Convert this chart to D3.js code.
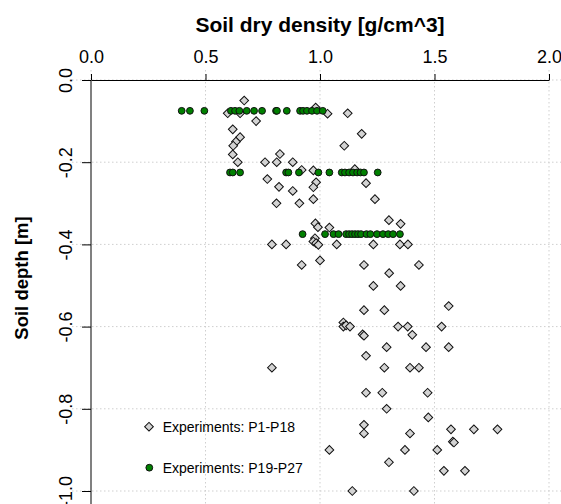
<!DOCTYPE html>
<html>
<head>
<meta charset="utf-8">
<script src="https://cdn.jsdelivr.net/npm/d3@7.9.0/dist/d3.min.js"></script>
<style>
  body { margin: 0; background: #fff; }
  svg { display: block; font-family: "Liberation Sans", Arial, sans-serif; }
</style>
</head>
<body>
<svg id="chart" width="561" height="504"></svg>
<script>
// Experiments P1-P18 (grey diamonds): density [g/cm^3], depth [m]
const p1Density = [0.669,0.597,0.651,0.721,0.981,1.033,1.121,0.619,0.651,0.633,
  0.621,0.619,0.641,0.760,0.811,0.881,0.825,1.182,1.106,0.770,
  0.821,0.881,0.810,0.910,0.920,0.971,0.983,0.971,0.971,1.152,
  1.201,1.240,1.301,1.352,0.980,0.991,1.041,0.978,0.971,0.983,
  0.993,0.790,0.852,1.073,1.233,1.349,1.384,1.000,0.920,1.192,
  1.432,1.302,1.233,1.352,1.562,1.192,1.281,1.102,1.102,1.114,
  1.131,1.341,1.383,1.531,1.186,1.192,1.403,1.291,1.463,1.562,
  1.201,0.790,1.281,1.393,1.432,1.201,1.272,1.470,1.291,1.473,
  1.192,1.192,1.393,1.572,1.672,1.775,1.580,1.585,1.041,1.371,
  1.512,1.301,1.541,1.633,1.141,1.410];
const p1Depth = [-0.050,-0.081,-0.081,-0.100,-0.067,-0.082,-0.081,-0.120,-0.139,-0.150,
  -0.160,-0.181,-0.200,-0.200,-0.200,-0.200,-0.180,-0.131,-0.160,-0.241,
  -0.260,-0.270,-0.300,-0.300,-0.219,-0.220,-0.249,-0.261,-0.290,-0.217,
  -0.251,-0.290,-0.341,-0.350,-0.349,-0.358,-0.359,-0.385,-0.393,-0.397,
  -0.401,-0.400,-0.400,-0.400,-0.400,-0.400,-0.400,-0.439,-0.450,-0.450,
  -0.450,-0.470,-0.501,-0.501,-0.550,-0.560,-0.560,-0.590,-0.600,-0.597,
  -0.600,-0.600,-0.600,-0.600,-0.619,-0.622,-0.620,-0.650,-0.650,-0.650,
  -0.671,-0.700,-0.700,-0.700,-0.700,-0.761,-0.761,-0.761,-0.800,-0.821,
  -0.839,-0.860,-0.860,-0.850,-0.850,-0.850,-0.880,-0.882,-0.900,-0.900,
  -0.900,-0.930,-0.951,-0.951,-1.000,-1.000];

// Experiments P19-P27 (green circles): one density list per sampling layer
const p19Layers = [-0.075, -0.225, -0.375];
const p19Density = [
  [0.396,0.432,0.495,0.611,0.629,0.648,0.680,0.712,0.747,0.808,0.812,0.855,0.913,0.926,0.943,0.965,0.987,1.012],
  [0.607,0.619,0.651,0.852,0.862,0.908,0.993,1.041,1.095,1.109,1.127,1.144,1.162,1.177,1.192,1.252],
  [0.924,1.022,1.059,1.081,1.114,1.127,1.140,1.153,1.166,1.179,1.203,1.220,1.249,1.275,1.298,1.319,1.349]
];

const xTicks = [0, 0.5, 1, 1.5, 2];
const yTicks = [0, -0.2, -0.4, -0.6, -0.8, -1.0];
const legendLabels = ['Experiments: P1-P18', 'Experiments: P19-P27'];

const svg = d3.select('#chart');
const x = d3.scaleLinear().domain([0, 2]).range([91, 549]);
const y = d3.scaleLinear().domain([0, -1]).range([80, 491]);
// plain hyphen minus, like the original plot
const fmt = (d) => (Math.abs(d) < 1e-9 ? 0 : d).toFixed(1);

// dotted grid
const grid = svg.append('g')
  .attr('stroke', '#cfcfcf')
  .attr('stroke-dasharray', '1.5,2.5');
xTicks.forEach((t) => {
  grid.append('line').attr('x1', x(t)).attr('x2', x(t)).attr('y1', 70).attr('y2', 504);
});
yTicks.forEach((t) => {
  grid.append('line').attr('x1', 72).attr('x2', 561).attr('y1', y(t)).attr('y2', y(t));
});

// grey zero line on the left
svg.append('line')
  .attr('x1', x(0)).attr('x2', x(0))
  .attr('y1', 80).attr('y2', 504)
  .attr('stroke', '#808080')
  .attr('stroke-width', 2);

// top axis
let xAxis = svg.append('g')
  .attr('transform', 'translate(0,80)')
  .call(d3.axisTop(x).tickValues(xTicks).tickFormat(fmt).tickSize(6).tickSizeOuter(0));
xAxis.select('.domain').attr('stroke', '#000');
xAxis.selectAll('text')
  .attr('y', -17)
  .attr('dy', 0)
  .attr('fill', '#000')
  .style('font-size', '18px')
  .style('font-family', '"Liberation Sans", Arial, sans-serif');

// left axis with rotated labels
let yAxis = svg.append('g')
  .attr('transform', `translate(${x(0)},0)`)
  .call(d3.axisLeft(y).tickValues(yTicks).tickFormat(fmt).tickSize(9).tickSizeOuter(0));
yAxis.select('.domain').remove();
yAxis.selectAll('text')
  .attr('transform', 'rotate(-90)')
  .attr('x', 0)
  .attr('y', -19)
  .attr('dy', 0)
  .attr('fill', '#000')
  .style('text-anchor', 'middle')
  .style('font-size', '18px')
  .style('font-family', '"Liberation Sans", Arial, sans-serif');

// titles
svg.append('text')
  .attr('x', 320).attr('y', 31.5)
  .attr('text-anchor', 'middle')
  .style('font-size', '21px')
  .style('font-weight', 'bold')
  .text('Soil dry density [g/cm^3]');

svg.append('text')
  .attr('transform', 'translate(27.5,278) rotate(-90)')
  .attr('text-anchor', 'middle')
  .style('font-size', '18.5px')
  .style('font-weight', 'bold')
  .text('Soil depth [m]');

// marks
const diamond = d3.symbol().type(d3.symbolSquare).size(38);

svg.append('g')
  .selectAll('path')
  .data(d3.range(p1Density.length))
  .join('path')
  .attr('d', diamond)
  .attr('transform', (i) => `translate(${x(p1Density[i])},${y(p1Depth[i])}) rotate(45)`)
  .attr('fill', '#d3d3d3')
  .attr('stroke', '#111')
  .attr('stroke-width', 1);

let greenPoints = [];
p19Layers.forEach((depth, li) => {
  p19Density[li].forEach((v) => greenPoints.push({ v, depth }));
});

svg.append('g')
  .selectAll('circle')
  .data(greenPoints)
  .join('circle')
  .attr('cx', (d) => x(d.v))
  .attr('cy', (d) => y(d.depth))
  .attr('r', 3.4)
  .attr('fill', '#008000')
  .attr('stroke', '#111')
  .attr('stroke-width', 1);

// legend
const legend = svg.append('g');
legend.append('path')
  .attr('d', diamond)
  .attr('transform', 'translate(149,426.7) rotate(45)')
  .attr('fill', '#d3d3d3')
  .attr('stroke', '#111');
legend.append('circle')
  .attr('cx', 149.3).attr('cy', 467.7).attr('r', 3.4)
  .attr('fill', '#008000')
  .attr('stroke', '#111');
legend.selectAll('text')
  .data(legendLabels)
  .join('text')
  .attr('x', 162.7)
  .attr('y', (d, i) => 431.7 + i * 41)
  .style('font-size', '14px')
  .text((d) => d);
</script>
</body>
</html>
